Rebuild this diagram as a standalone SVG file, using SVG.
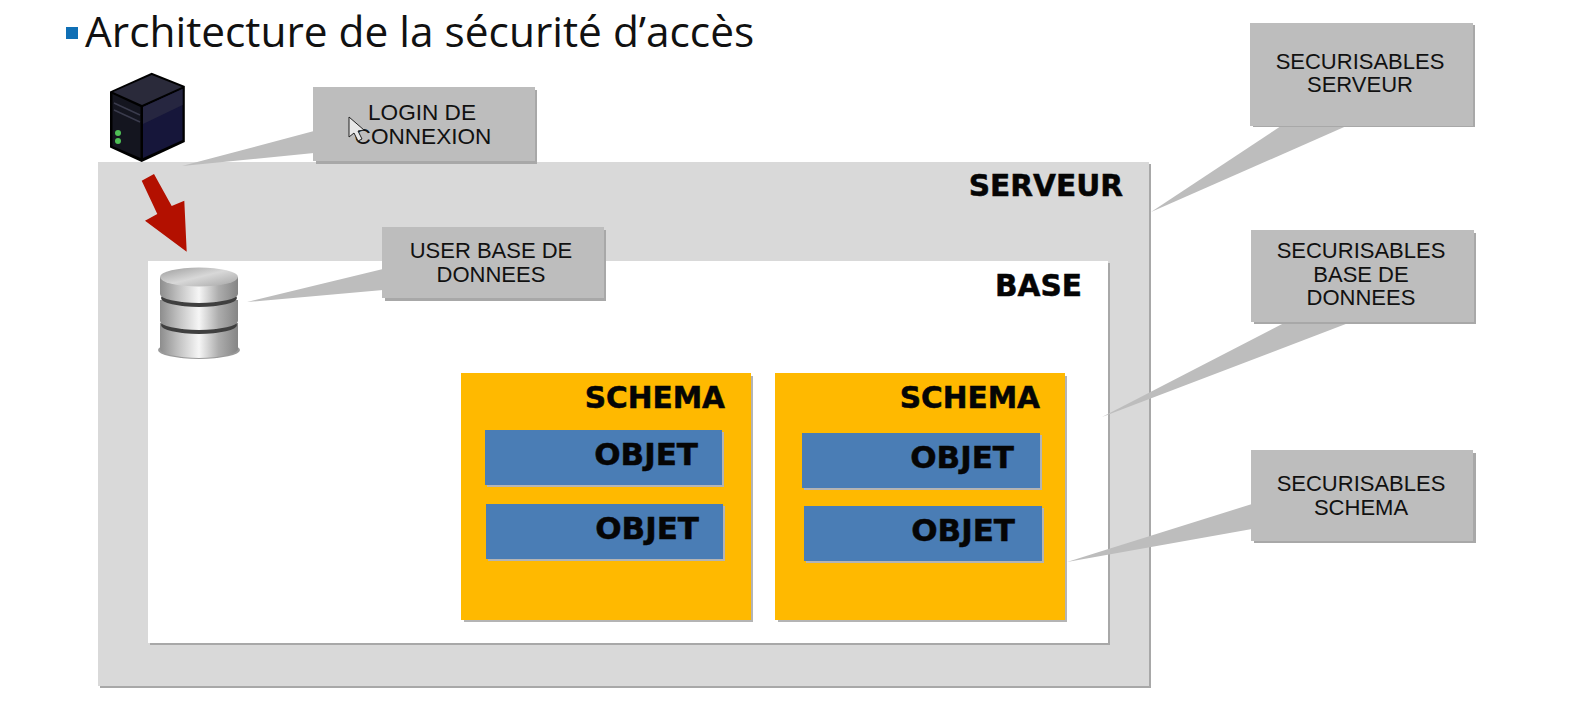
<svg xmlns="http://www.w3.org/2000/svg" width="1576" height="708" viewBox="0 0 1576 708">
<style>
.sh{fill:#a8a8a8}
.srv{fill:#d9d9d9}
.call{fill:#bdbdbd}
.sch{fill:#ffb900}
.obj{fill:#4a7db5}
.schsh{fill:#b4b4b4}
.ct{font-family:"Liberation Sans",Arial,sans-serif;font-size:22px;fill:#111;text-anchor:middle}
.lg{font-size:22.6px}
.bt{font-family:"DejaVu Sans",Verdana,sans-serif;font-weight:700;font-size:29.6px;fill:#050505;stroke:#050505;stroke-width:.5px;text-anchor:end}
.ob{font-size:31px}
.tail{fill:#bdbdbd}
</style>
<defs>
<linearGradient id="metal" x1="0" x2="1" y1="0" y2="0">
<stop offset="0" stop-color="#8d8d8d"/><stop offset=".25" stop-color="#c4c4c4"/><stop offset=".5" stop-color="#f6f6f6"/><stop offset=".75" stop-color="#adadad"/><stop offset="1" stop-color="#858585"/>
</linearGradient>
<linearGradient id="top" x1="0" x2="1" y1="0" y2="1">
<stop offset="0" stop-color="#9c9c9c"/><stop offset=".5" stop-color="#d8d8d8"/><stop offset="1" stop-color="#a4a4a4"/>
</linearGradient>
</defs>
<rect width="1576" height="708" fill="#fff"/>
<g id="title">
<rect x="66" y="27" width="12" height="12" fill="#0f6fb5"/>
<text x="85" y="47" font-family="'Open Sans','Noto Sans',sans-serif" font-size="42.4px" fill="#111">Architecture de la sécurité d’accès</text>
</g>
<g id="serveur">
<rect class="sh" x="100" y="164" width="1051" height="524"/>
<rect class="srv" x="98" y="162" width="1051" height="524"/>
<text class="bt" x="1123" y="196">SERVEUR</text>
</g>
<g id="base">
<rect class="sh" x="150" y="263" width="960" height="382"/>
<rect x="148" y="261" width="960" height="382" fill="#fff"/>
<text class="bt" x="1082" y="296">BASE</text>
</g>
<g id="schema1">
<rect class="schsh" x="464" y="376" width="289" height="246"/>
<rect class="sch" x="461" y="373" width="290" height="247"/>
<text class="bt" x="725" y="408">SCHEMA</text>
</g>
<g id="objet1">
<rect class="schsh" x="487" y="432" width="237" height="55"/>
<rect class="obj" x="485" y="430" width="237" height="55"/>
<text class="bt ob" x="698" y="465">OBJET</text>
</g>
<g id="objet2">
<rect class="schsh" x="488" y="506" width="237" height="55"/>
<rect class="obj" x="486" y="504" width="237" height="55"/>
<text class="bt ob" x="699" y="539">OBJET</text>
</g>
<g id="schema2">
<rect class="schsh" x="778" y="376" width="289" height="246"/>
<rect class="sch" x="775" y="373" width="290" height="247"/>
<text class="bt" x="1040" y="408">SCHEMA</text>
</g>
<g id="objet3">
<rect class="schsh" x="804" y="435" width="238" height="55"/>
<rect class="obj" x="802" y="433" width="238" height="55"/>
<text class="bt ob" x="1014" y="468">OBJET</text>
</g>
<g id="objet4">
<rect class="schsh" x="806" y="508" width="238" height="55"/>
<rect class="obj" x="804" y="506" width="238" height="55"/>
<text class="bt ob" x="1015" y="541">OBJET</text>
</g>
<g id="connectors">
<polygon class="tail" points="182,166 314,131 314,153"/>
<polygon class="tail" points="247,302 383,269 383,290"/>
<polygon class="tail" points="1067,562 1252,504 1252,529"/>
<polygon class="tail" points="1102,417 1286,322 1351,322"/>
<polygon class="tail" points="1151,212 1284,124 1351,124"/>
<polygon points="141.7,180.7 154,174 171.7,206 184.3,200.7 186.7,251.7 145,220.7 157.3,214" fill="#b31000"/>
</g>
<g id="login">
<rect class="sh" x="316" y="90" width="221" height="74"/>
<rect class="call" x="313" y="87" width="222" height="74"/>
<text class="ct lg" x="422" y="120">LOGIN DE</text>
<text class="ct lg" x="423" y="144">CONNEXION</text>
<polygon points="349,117 349,137 354,133 358,141 362,139 358,131 364,130" fill="#e8e8e8" stroke="#222" stroke-width="1"/>
</g>
<g id="user">
<rect class="sh" x="385" y="230" width="221" height="71"/>
<rect class="call" x="382" y="227" width="222" height="71"/>
<text class="ct" x="491" y="258">USER BASE DE</text>
<text class="ct" x="491" y="282">DONNEES</text>
</g>
<g id="sec-serveur">
<rect class="sh" x="1253" y="25" width="222" height="102"/>
<rect class="call" x="1250" y="23" width="223" height="103"/>
<text class="ct" x="1360" y="69">SECURISABLES</text>
<text class="ct" x="1360" y="92">SERVEUR</text>
</g>
<g id="sec-base">
<rect class="sh" x="1254" y="233" width="222" height="91"/>
<rect class="call" x="1251" y="230" width="223" height="92"/>
<text class="ct" x="1361" y="258">SECURISABLES</text>
<text class="ct" x="1361" y="282">BASE DE</text>
<text class="ct" x="1361" y="305">DONNEES</text>
</g>
<g id="sec-schema">
<rect class="sh" x="1254" y="453" width="222" height="90"/>
<rect class="call" x="1251" y="450" width="222" height="91"/>
<text class="ct" x="1361" y="491">SECURISABLES</text>
<text class="ct" x="1361" y="515">SCHEMA</text>
</g>
<g id="server-icon">
<polygon points="151.7,72.7 184.8,86 184.8,142 141.7,162 110,147.5 110,91.5" fill="#000"/>
<polygon points="151.7,75 182,87 142,105 113,92" fill="#2a2a3a"/>
<polygon points="112.5,94 140.5,107 140.5,158 112.5,146" fill="#14151f"/>
<polygon points="143,107 182.5,89 182.5,140 143,158" fill="#16163a"/>
<polygon points="143,107 182.5,89 182.5,105 143,124" fill="#262640"/>
<path d="M114 103 L140 115 M114 110 L140 122" stroke="#3a3b4c" stroke-width="1.5" fill="none"/>
<circle cx="118" cy="133" r="3" fill="#4fbf55"/>
<circle cx="118" cy="141" r="3" fill="#4fbf55"/>
</g>
<g id="db-icon">
<ellipse cx="199" cy="350" rx="41" ry="9" fill="#9a9a9a"/>
<path d="M160 323 V349 A39 9 0 0 0 238 349 V323 Z" fill="url(#metal)"/>
<ellipse cx="199" cy="325" rx="38" ry="9" fill="#3f3f3f"/>
<path d="M160 300 V321 A39 9 0 0 0 238 321 V300 Z" fill="url(#metal)"/>
<ellipse cx="199" cy="298" rx="38" ry="9" fill="#3f3f3f"/>
<path d="M160 277 V294 A39 9 0 0 0 238 294 V277 Z" fill="url(#metal)"/>
<ellipse cx="199" cy="277" rx="39" ry="9.5" fill="url(#top)"/>
</g>
</svg>
